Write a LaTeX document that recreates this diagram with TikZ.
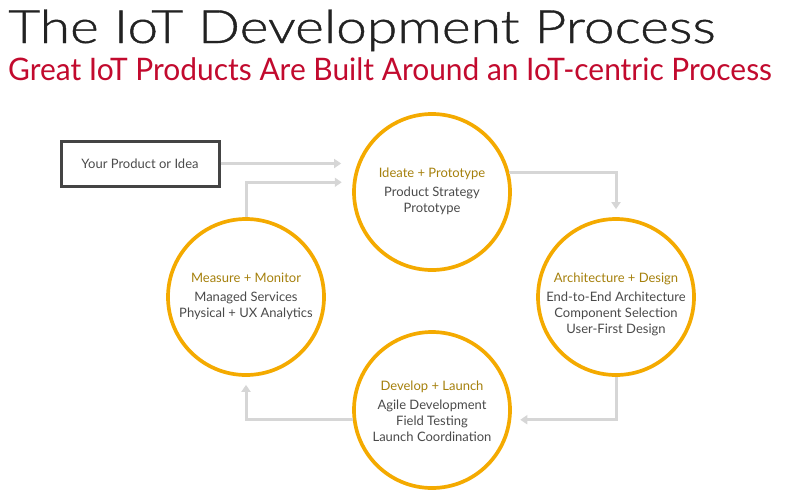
\documentclass[tikz,border=0pt]{standalone}
\usepackage{fontspec}
\setmainfont{Lato}
\newfontfamily\titlefont[FakeBold=0.8]{Lato Light}
\usetikzlibrary{arrows.meta,calc}
\definecolor{ring}{HTML}{F4AA00}
\definecolor{head}{HTML}{A5800C}
\definecolor{body}{HTML}{4A4A4A}
\definecolor{conn}{HTML}{D6D6D6}
\definecolor{subred}{HTML}{C20A2E}
\definecolor{titlec}{HTML}{222222}
\definecolor{boxc}{HTML}{444444}
\tikzset{
  phase/.style={circle, draw=ring, line width=3.7pt, minimum size=156pt, inner sep=0pt},
  phasetext/.style={align=center, text=body, inner sep=0pt, font=\fontsize{13}{16}\selectfont},
  conn/.style={draw=conn, line width=3pt, -{Triangle[length=7pt,width=9pt]}},
  ideabox/.style={draw=boxc, line width=3pt, minimum width=158pt, minimum height=45pt,
    text=body, font=\fontsize{13}{15}\selectfont}
}
\newcommand{\hd}[1]{{\color{head}#1}\\[3pt]}
\begin{document}
\begin{tikzpicture}[x=1pt,y=-1pt]
\useasboundingbox (0,0) rectangle (786,496);
\node[anchor=base west, inner sep=0pt, text=titlec, font=\titlefont\fontsize{46}{50}\selectfont] (title) at (8,43) {\scalebox{1.2}[1]{The IoT Development Process}};
\node[anchor=base west, inner sep=0pt, text=subred, font=\fontsize{31}{34}\selectfont] (subtitle) at (8,80) {\scalebox{0.965}[1]{Great IoT Products Are Built Around an IoT-centric Process}};

\node[ideabox] (idea) at (140,163.5) {Your Product or Idea};

\node[phase] (ideate) at (432,192) {};
\node[phase] (arch) at (616,297) {};
\node[phase] (dev) at (432,410) {};
\node[phase] (meas) at (246,297) {};

\node[phasetext] (ideateT) at (432,191) {\hd{Ideate + Prototype}Product Strategy\\Prototype};
\node[phasetext] (archT) at (616,304) {\hd{Architecture + Design}End-to-End Architecture\\Component Selection\\User-First Design};
\node[phasetext] (devT) at (432,411) {\hd{Develop + Launch}Agile Development\\Field Testing\\Launch Coordination};
\node[phasetext] (measT) at (246,296.5) {\hd{Measure + Monitor}Managed Services\\Physical + UX Analytics};

\draw[conn, shorten >=11pt] (idea.east) -- (idea.east -| ideate.west);
\draw[conn, shorten >=11pt] (meas.north) |- (ideate.173);
\draw[conn, shorten >=8pt] (ideate.14.6) -| (arch.north);
\draw[conn, shorten >=9pt] (arch.south) |- (dev.-7);
\draw[conn, shorten >=8pt] (dev.187) -| (meas.south);
\end{tikzpicture}
\end{document}
